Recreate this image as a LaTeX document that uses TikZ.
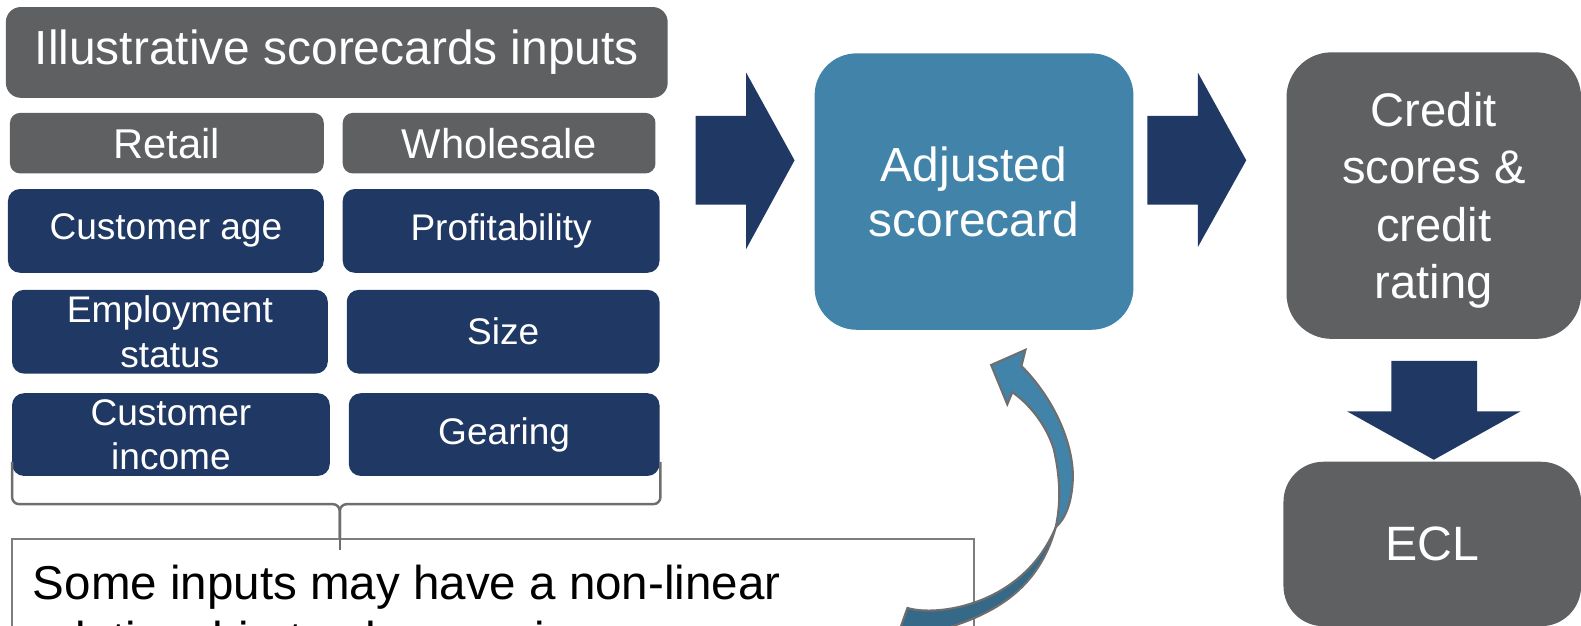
\documentclass[tikz,border=0pt]{standalone}
\usepackage{fontspec}
\setmainfont{Liberation Sans}
\usetikzlibrary{positioning}

\definecolor{boxgray}{RGB}{95,96,98}
\definecolor{navy}{RGB}{31,56,100}
\definecolor{steel}{RGB}{66,131,169}
\definecolor{steeldark}{RGB}{54,104,136}
\definecolor{edgegray}{RGB}{110,110,110}

\tikzset{
  graybox/.style={fill=boxgray, text=white, inner sep=0pt, align=center},
  navybox/.style={fill=navy, text=white, inner sep=0pt, align=center,
    rounded corners=0.12cm, minimum height=0.83cm,
    font=\fontsize{10.45}{12.5}\selectfont},
  subhead/.style={graybox, rounded corners=0.1cm, minimum height=0.6cm,
    font=\fontsize{11.75}{14}\selectfont},
  bigbox/.style={inner sep=0pt, align=center, text=white, rounded corners=0.42cm},
  blockarrow/.style={fill=navy},
  brace/.style={draw=edgegray, line width=0.7pt, rounded corners=0.07cm},
}

\begin{document}
\begin{tikzpicture}[x=0.01cm, y=-0.01cm, scale=1.0083, transform shape]
  \useasboundingbox (0,0) rectangle (1568,620);
  \clip (0,0) rectangle (1568,620);

  % inputs
  \node[graybox, rounded corners=0.15cm, minimum width=6.56cm, minimum height=0.9cm,
    font=\fontsize{13.5}{16}\selectfont] (title) at (334,52) {Illustrative scorecards inputs};
  \node[subhead, minimum width=3.11cm] (retail) at (165.5,142) {Retail};
  \node[subhead, minimum width=3.10cm] (wholesale) at (495,142) {Wholesale};

  \node[navybox, minimum width=3.13cm] (custage) at (164.5,229) {Customer age};
  \node[navybox, minimum width=3.14cm] (profit) at (497,229) {Profitability};
  \node[navybox, minimum width=3.13cm] (employ) at (168.5,329) {Employment\\status};
  \node[navybox, minimum width=3.10cm] (size) at (499,329) {Size};
  \node[navybox, minimum width=3.15cm, minimum height=0.82cm] (income) at (169.5,431) {Customer\\income};
  \node[navybox, minimum width=3.08cm, minimum height=0.82cm] (gearing) at (500,431) {Gearing};

  % brace and note
  \draw[brace] (12,458) -- (12,500) -- (337,500) -- (337,545);
  \draw[brace] (655,458) -- (655,500) -- (337,500) -- (337,545);
  \draw[draw=edgegray!90, line width=0.6pt, fill=white] (12,535) rectangle (966,660);
  \node[anchor=base west, inner sep=0pt, align=left,
    font=\fontsize{13.4}{15.65}\selectfont] (note) at (32,650)
    {Some inputs may have a non-linear\\relationship to changes in};
  \draw[brace] (337,520) -- (337,545);

  % scorecard and outputs
  \node[bigbox, fill=steel, minimum width=3.16cm, minimum height=2.74cm,
    font=\fontsize{13.5}{15.6}\selectfont] (adjusted) at (966,190) {Adjusted\\scorecard};
  \node[bigbox, graybox, rounded corners=0.45cm, minimum width=2.92cm, minimum height=2.84cm,
    text depth=-1.8pt, font=\fontsize{13.3}{16.2}\selectfont] (credit) at (1422,194)
    {Credit\\scores \&\\credit\\rating};
  \node[bigbox, graybox, rounded corners=0.4cm, minimum width=2.95cm, minimum height=1.63cm,
    font=\fontsize{13.6}{16}\selectfont] (ecl) at (1420.5,539.5) {ECL};

  % block arrows
  \fill[blockarrow] (690,115) -- (740,115) -- (740,72) -- (788,159) -- (740,247)
    -- (740,203) -- (690,203) -- cycle;
  \fill[blockarrow] (1138,115) -- (1188,115) -- (1188,72) -- (1236,159) -- (1188,245)
    -- (1188,203) -- (1138,203) -- cycle;
  \fill[blockarrow] (1380,358) -- (1465,358) -- (1465,408) -- (1508,408) -- (1422,456)
    -- (1336,408) -- (1380,408) -- cycle;

  % curved feedback arrow
  \filldraw[fill=steeldark, draw=edgegray, line width=0.6pt]
    (1047,523) .. controls (1030,585) and (985,612) .. (920,628)
    -- (885,645) -- (900,603)
    .. controls (930,612) and (1015,600) .. (1047,523) -- cycle;
  \filldraw[fill=steel, draw=edgegray, line width=0.6pt]
    (983,362) -- (1017,347) -- (1013,363)
    .. controls (1045,395) and (1065,440) .. (1064,475)
    .. controls (1063,500) and (1056,515) .. (1047,523)
    .. controls (1052,500) and (1052,475) .. (1045,445)
    .. controls (1037,420) and (1020,400) .. (1004,389)
    -- (999,401) -- cycle;
\end{tikzpicture}
\end{document}
